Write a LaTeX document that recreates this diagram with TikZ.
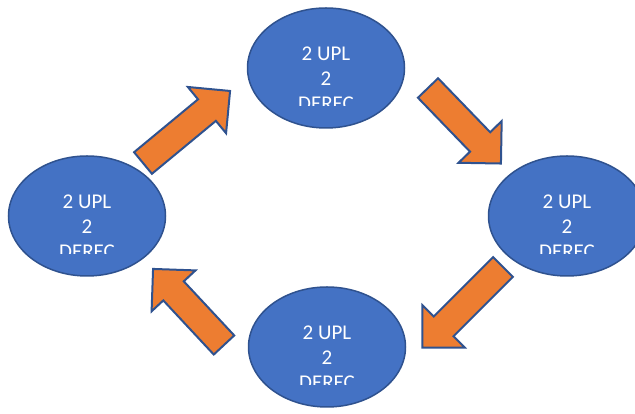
\documentclass[tikz,border=0pt]{standalone}
\usepackage{fontspec}
\setmainfont{Carlito}
\usetikzlibrary{shapes.geometric}

\definecolor{cellblue}{HTML}{4472C4}
\definecolor{edgeblue}{HTML}{2F528F}
\definecolor{arroworange}{HTML}{ED7D31}

\tikzset{
  cell/.style={ellipse, draw=edgeblue, line width=1.5pt, fill=cellblue,
    minimum width=157pt, minimum height=120pt, inner sep=0pt},
  celltext/.style={text=white, font=\fontsize{21}{25}\selectfont,
    anchor=base, inner sep=0pt},
  fatarrow/.style={draw=edgeblue, line width=2pt, fill=arroworange},
  pics/bigarrow/.style={code={
    \draw[fatarrow] (0,-14) -- (#1-30,-14) -- (#1-30,-30) -- (#1,0)
      -- (#1-30,30) -- (#1-30,14) -- (0,14) -- cycle;
  }}
}

% the three text lines of a cell, last one cut off
\newcommand{\celltext}[1]{%
  \node[celltext] (#1-a) at ([yshift=7pt]#1.center) {2 UPL};
  \node[celltext] (#1-b) at ([yshift=-18pt]#1.center) {2};
  \begin{scope}
    \clip ([xshift=-60pt,yshift=-38pt]#1.center) rectangle ([xshift=60pt,yshift=-22pt]#1.center);
    \node[celltext] (#1-c) at ([yshift=-43pt]#1.center) {DEREC};
  \end{scope}
}

\begin{document}
\begin{tikzpicture}[x=1pt, y=1pt]
  \clip (0,0) rectangle (635,414);

  \node[cell] (top) at (326,346) {};
  \node[cell] (right) at (567,198) {};
  \node[cell] (bottom) at (327,67) {};
  \node[cell] (left) at (87,198) {};

  \celltext{top}
  \celltext{right}
  \celltext{bottom}
  \celltext{left}

  \pic[rotate=39.6] at (143,251) {bigarrow=113};
  \pic[rotate=-46] at (428,326) {bigarrow=105};
  \pic[rotate=225] at (503,147) {bigarrow=114};
  \pic[rotate=133] at (224,69) {bigarrow=104};
\end{tikzpicture}
\end{document}
